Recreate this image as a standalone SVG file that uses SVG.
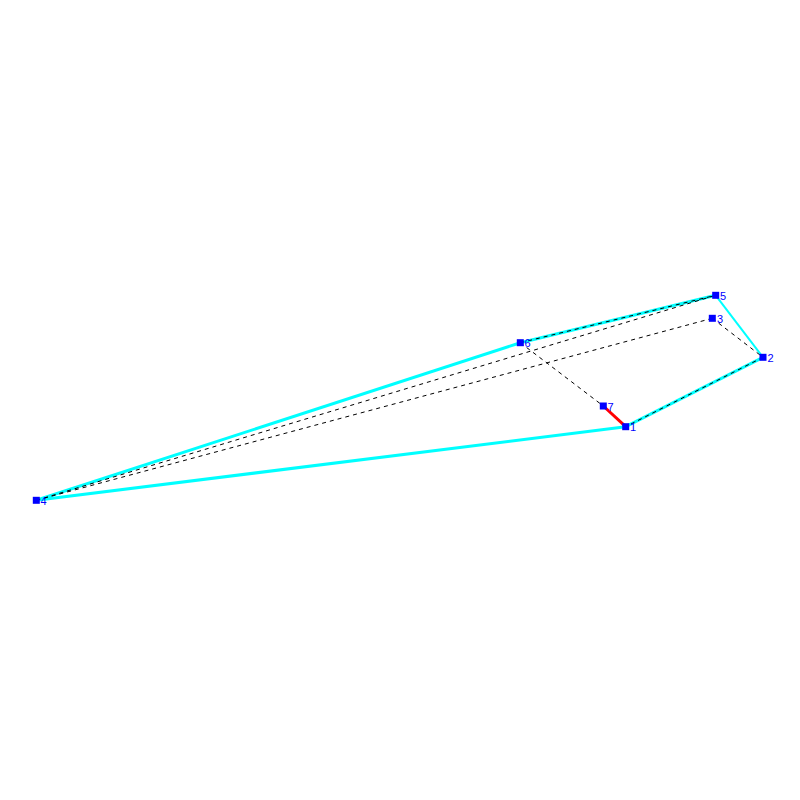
<svg xmlns="http://www.w3.org/2000/svg" width="800" height="800" viewBox="0 0 800 800">
<style>
.c{stroke:#00ffff;stroke-width:3;fill:none}
.d{stroke:#000;stroke-width:1;stroke-dasharray:4,4;fill:none}
.r{stroke:#ff0000;stroke-width:3;fill:none}
.n{fill:#0000ff}
.t{fill:#0000ff;font-family:"Liberation Sans",Arial,sans-serif;font-size:11px}
</style>
<rect width="800" height="800" fill="#fff"/>
<g id="connectors">
<line class="c" x1="36.3" y1="500.3" x2="520.3" y2="342.7"/>
<line class="c" x1="520.3" y1="342.7" x2="715.7" y2="295.3"/>
<line class="c" x1="715.7" y1="295.3" x2="763" y2="357.3" style="stroke-width:2"/>
<line class="c" x1="763" y1="357.3" x2="625.7" y2="426.7"/>
<line class="c" x1="625.7" y1="426.7" x2="36.3" y2="500.3"/>
<line class="r" x1="603.3" y1="406" x2="625.7" y2="426.7"/>
<line class="d" x1="36.3" y1="500.3" x2="715.7" y2="295.3"/>
<line class="d" x1="36.3" y1="500.3" x2="712.3" y2="318.3"/>
<line class="d" x1="712.3" y1="318.3" x2="763" y2="357.3"/>
<line class="d" x1="520.3" y1="342.7" x2="603.3" y2="406"/>
<line class="d" x1="520.3" y1="342.7" x2="715.7" y2="295.3"/>
<line class="d" x1="763" y1="357.3" x2="625.7" y2="426.7"/>
</g>
<g id="n1"><rect class="n" x="622.2" y="423.2" width="7" height="7"/><text class="t" x="630" y="431">1</text></g>
<g id="n2"><rect class="n" x="759.5" y="353.8" width="7" height="7"/><text class="t" x="767.5" y="361.5">2</text></g>
<g id="n3"><rect class="n" x="708.8" y="314.8" width="7" height="7"/><text class="t" x="717" y="322.5">3</text></g>
<g id="n4"><rect class="n" x="32.8" y="496.8" width="7" height="7"/><text class="t" x="40.5" y="504.5">4</text></g>
<g id="n5"><rect class="n" x="712.2" y="291.8" width="7" height="7"/><text class="t" x="720" y="299.5">5</text></g>
<g id="n6"><rect class="n" x="516.8" y="339.2" width="7" height="7"/><text class="t" x="524.5" y="347">6</text></g>
<g id="n7"><rect class="n" x="599.8" y="402.5" width="7" height="7"/><text class="t" x="607.5" y="410.5">7</text></g>
</svg>
